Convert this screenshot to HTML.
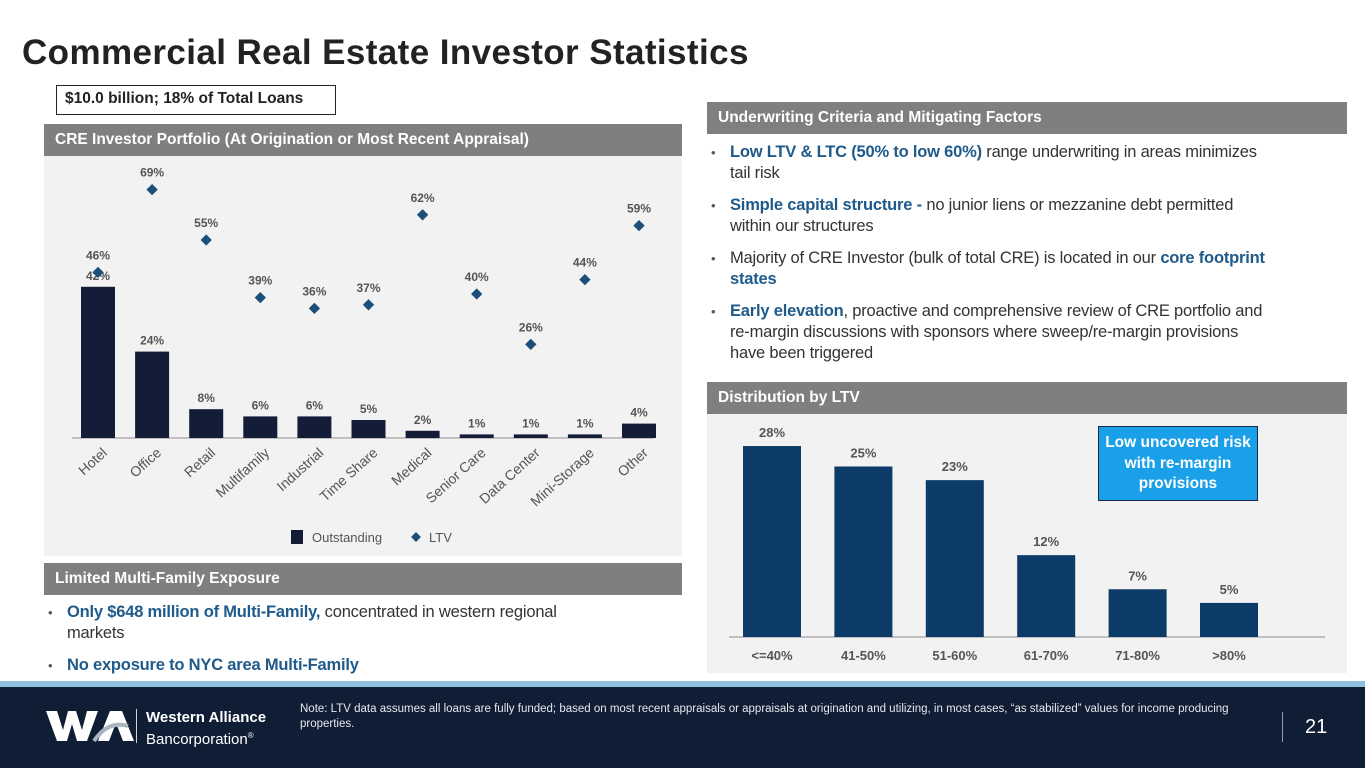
<!DOCTYPE html>
<html><head><meta charset="utf-8"><style>
*{margin:0;padding:0;box-sizing:border-box}
body{width:1365px;height:768px;overflow:hidden;background:#fff;font-family:"Liberation Sans",sans-serif;position:relative}
.abs{position:absolute}
.hdr{position:absolute;background:#7f7f7f;color:#fff;font-size:15.5px;font-weight:bold;padding-left:11px;display:flex;align-items:center}
.bl{position:absolute;font-size:16.5px;color:#333;line-height:21px;letter-spacing:-0.2px}
.bl li{list-style:none;position:relative;padding-left:23px;margin-bottom:11px}
.bl li:before{content:"•";position:absolute;left:4px;font-size:13px;color:#555}
.b{color:#1f5a8a;font-weight:bold}
</style></head><body>
<div class="abs" style="left:22px;top:33px;font-size:35px;font-weight:bold;color:#222;letter-spacing:0.4px">Commercial Real Estate Investor Statistics</div>
<div class="abs" style="left:56px;top:85px;width:280px;height:30px;border:1.5px solid #222;font-size:15.5px;font-weight:bold;color:#222;padding:4px 0 0 8px">$10.0 billion; 18% of Total Loans</div>

<div class="hdr" style="left:44px;top:124px;width:638px;height:32px">CRE Investor Portfolio (At Origination or Most Recent Appraisal)</div>
<div class="abs" style="left:44px;top:156px;width:638px;height:400px;background:#f2f2f2"></div>
<svg id="c1" class="abs" style="left:44px;top:156px" width="638" height="400"></svg>

<div class="hdr" style="left:44px;top:563px;width:638px;height:32px">Limited Multi-Family Exposure</div>
<ul class="bl" style="left:44px;top:602px;width:570px">
<li><span class="b">Only $648 million of Multi-Family,</span> concentrated in western regional markets</li>
<li><span class="b">No exposure to NYC area Multi-Family</span></li>
</ul>

<div class="hdr" style="left:707px;top:102px;width:640px;height:32px">Underwriting Criteria and Mitigating Factors</div>
<ul class="bl" style="left:707px;top:142px;width:560px">
<li><span class="b">Low LTV &amp; LTC (50% to low 60%)</span> range underwriting in areas minimizes tail risk</li>
<li><span class="b">Simple capital structure -</span> no junior liens or mezzanine debt permitted within our structures</li>
<li>Majority of CRE Investor (bulk of total CRE) is located in our <span class="b">core footprint states</span></li>
<li><span class="b">Early elevation</span>, proactive and comprehensive review of CRE portfolio and re-margin discussions with sponsors where sweep/re-margin provisions have been triggered</li>
</ul>

<div class="hdr" style="left:707px;top:382px;width:640px;height:32px">Distribution by LTV</div>
<div class="abs" style="left:707px;top:414px;width:640px;height:259px;background:#f2f2f2"></div>
<svg id="c2" class="abs" style="left:707px;top:414px" width="640" height="259"></svg>
<div class="abs" style="left:1098px;top:426px;width:160px;height:75px;background:#1aa0e8;border:1.5px solid #1a2a44;color:#fff;font-size:15.5px;font-weight:bold;text-align:center;line-height:20.5px;padding:6px 6px 0">Low uncovered risk with re-margin provisions</div>

<div class="abs" style="left:0;top:681px;width:1365px;height:6px;background:#8fc0dd"></div>
<div class="abs" style="left:0;top:687px;width:1365px;height:81px;background:#0f1d35"></div>
<svg class="abs" style="left:46px;top:708px" width="90" height="36">
<polygon points="0,3 11,3 17,22 22,3 30,3 36,22 41,3 52,3 41,33 31,33 26,16 21,33 11,33" fill="#fff"/>
<polygon points="52,33 64,3 76,3 88,33 77,33 70,15 63,33" fill="#fff"/>
<path d="M48,33 Q62,12 82,18" stroke="#aab3bf" stroke-width="4" fill="none"/>
</svg>
<div class="abs" style="left:136px;top:709px;width:1px;height:34px;background:#cfd5dd"></div>
<div class="abs" style="left:146px;top:709px;color:#fff;font-size:15px;line-height:18px"><b>Western Alliance</b><br>Bancorporation<sup style="font-size:8px">®</sup></div>
<div class="abs" style="left:300px;top:702px;width:945px;color:#e6e9ee;font-size:11.5px;line-height:15px">Note: LTV data assumes all loans are fully funded; based on most recent appraisals or appraisals at origination and utilizing, in most cases, “as stabilized” values for income producing properties.</div>
<div class="abs" style="left:1282px;top:712px;width:1px;height:30px;background:#8fa0b8"></div>
<div class="abs" style="left:1305px;top:716px;color:#fff;font-size:20px">21</div>

<script>
const ns="http://www.w3.org/2000/svg";
const cats=["Hotel","Office","Retail","Multifamily","Industrial","Time Share","Medical","Senior Care","Data Center","Mini-Storage","Other"];
const outstanding=[42,24,8,6,6,5,2,1,1,1,4];
const ltv=[46,69,55,39,36,37,62,40,26,44,59];
const ltvBuckets=["<=40%","41-50%","51-60%","61-70%","71-80%",">80%"];
const ltvShares=[28,25,23,12,7,5];
function mk(p,t,a){const e=document.createElementNS(ns,t);for(const k in a)e.setAttribute(k,a[k]);p.appendChild(e);return e;}
const c1=document.getElementById('c1');
const base1=282, k1=3.6, x1=i=>54+i*54.1;
const y1=v=>base1-v*k1;
mk(c1,'line',{x1:28,x2:610,y1:base1,y2:base1,stroke:'#b0b0b0','stroke-width':1.5});
cats.forEach((c,i)=>{
  const b=mk(c1,'rect',{x:x1(i)-17,y:y1(outstanding[i]),width:34,height:outstanding[i]*k1,fill:'#131d38'});
  
  
  const t=mk(c1,'text',{x:x1(i),y:y1(outstanding[i])-7,'text-anchor':'middle','font-size':12,'font-weight':'bold',fill:'#555'});
  t.textContent=outstanding[i]+'%';
  const d=mk(c1,'rect',{x:-4,y:-4,width:8,height:8,fill:'#1b4f7a',transform:`translate(${x1(i)},${y1(ltv[i])}) rotate(45)`});
  
  
  const lt=mk(c1,'text',{x:x1(i),y:y1(ltv[i])-13,'text-anchor':'middle','font-size':12,'font-weight':'bold',fill:'#555'});
  lt.textContent=ltv[i]+'%';
  const cl=mk(c1,'text',{x:0,y:0,'text-anchor':'end','font-size':14,fill:'#555',transform:`translate(${x1(i)+10},${base1+16}) rotate(-42)`});
  cl.textContent=c;
  
  
});
const lg=mk(c1,'rect',{x:247,y:374,width:12,height:14,fill:'#131d38'});


mk(c1,'text',{x:268,y:386,'font-size':13,fill:'#555'}).textContent='Outstanding';
mk(c1,'rect',{x:-3.5,y:-3.5,width:7,height:7,fill:'#1b4f7a',transform:'translate(372,381) rotate(45)'});
mk(c1,'text',{x:385,y:386,'font-size':13,fill:'#555'}).textContent='LTV';

const c2=document.getElementById('c2');
const base2=223, k2=6.82, x2=i=>65+i*91.4;
mk(c2,'line',{x1:22,x2:618,y1:base2,y2:base2,stroke:'#b0b0b0','stroke-width':1.5});
ltvBuckets.forEach((c,i)=>{
  const b=mk(c2,'rect',{x:x2(i)-29,y:base2-ltvShares[i]*k2,width:58,height:ltvShares[i]*k2,fill:'#0b3b66'});
  
  
  mk(c2,'text',{x:x2(i),y:base2-ltvShares[i]*k2-9,'text-anchor':'middle','font-size':13,'font-weight':'bold',fill:'#555'}).textContent=ltvShares[i]+'%';
  mk(c2,'text',{x:x2(i),y:246,'text-anchor':'middle','font-size':13,'font-weight':'bold',fill:'#555'}).textContent=c;
});
</script>
</body></html>
